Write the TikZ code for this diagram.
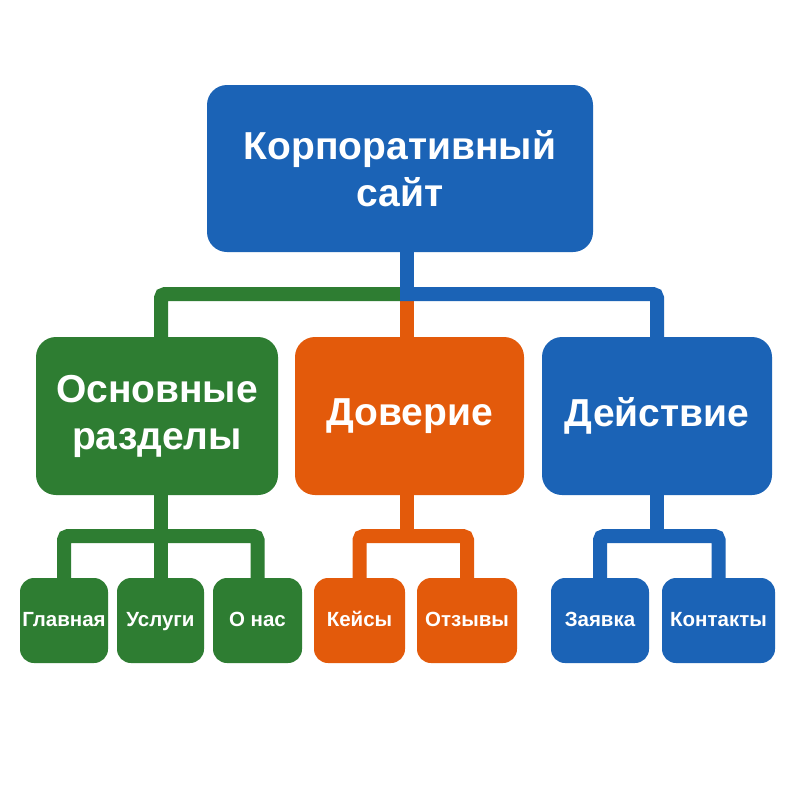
\documentclass[tikz,border=0pt]{standalone}
\usepackage{fontspec}
\setmainfont{Liberation Sans}
\definecolor{cblue}{HTML}{1B63B6}
\definecolor{cgreen}{HTML}{2E7D32}
\definecolor{corange}{HTML}{E35A0B}
\begin{document}
\begin{tikzpicture}[x=1pt,y=-1pt,
  box/.style={rounded corners=20pt, inner sep=0pt, text=white, align=center,
    font=\bfseries\fontsize{39}{47}\selectfont},
  leaf/.style={rounded corners=14pt, inner sep=0pt, text=white, align=center,
    minimum height=85pt, text height=15pt, text depth=4pt,
    font=\bfseries\fontsize{20.5}{24}\selectfont},
  conn/.style={line width=14pt, rounded corners=4pt}]
\useasboundingbox (0,0) rectangle (800,800);
\fill[white] (0,0) rectangle (800,800);
% boxes
\node[box, fill=cblue, minimum width=386pt, minimum height=167pt] (top) at (400,168.5) {Корпоративный\\сайт};
\node[box, fill=cgreen, minimum width=242pt, minimum height=158pt] (sec) at (157,416) {Основные\\разделы};
\node[box, fill=corange, minimum width=229pt, minimum height=158pt] (trust) at (409.5,416) {Доверие};
\node[box, fill=cblue, minimum width=230pt, minimum height=158pt] (act) at (657,416) {Действие};
\node[leaf, fill=cgreen, minimum width=88pt] (hom) at (64,620.5) {Главная};
\node[leaf, fill=cgreen, minimum width=87pt] (svc) at (160.5,620.5) {Услуги};
\node[leaf, fill=cgreen, minimum width=89pt] (abt) at (257.5,620.5) {О нас};
\node[leaf, fill=corange, minimum width=91pt] (case) at (359.5,620.5) {Кейсы};
\node[leaf, fill=corange, minimum width=100pt] (rev) at (467,620.5) {Отзывы};
\node[leaf, fill=cblue, minimum width=98pt] (req) at (600,620.5) {Заявка};
\node[leaf, fill=cblue, minimum width=113pt] (cont) at (718.5,620.5) {Контакты};
% connector coordinates
\coordinate (hub) at (407,294);
\coordinate (gbar) at (0,536);
\coordinate (obar) at (0,536);
\coordinate (bbar) at (0,536);
% top level
\draw[conn, cgreen] ([xshift=4pt]sec.north) |- (hub);
\draw[conn, corange] (hub) -- (trust.north -| hub);
\draw[conn, cblue] (act.north) |- ([xshift=-7pt]hub);
\draw[conn, cblue] (top.south -| hub) -- (hub);
% green children
\draw[conn, cgreen] (hom.north) |- (abt.north |- gbar) -- (abt.north);
\draw[conn, cgreen] (sec.south -| svc.north) -- (svc.north);
% orange children
\draw[conn, corange] (case.north) |- (rev.north |- obar) -- (rev.north);
\draw[conn, corange] (trust.south -| hub) -- (hub |- obar);
% blue children
\draw[conn, cblue] (req.north) |- (cont.north |- bbar) -- (cont.north);
\draw[conn, cblue] (act.south) -- (act.south |- bbar);
\end{tikzpicture}
\end{document}
